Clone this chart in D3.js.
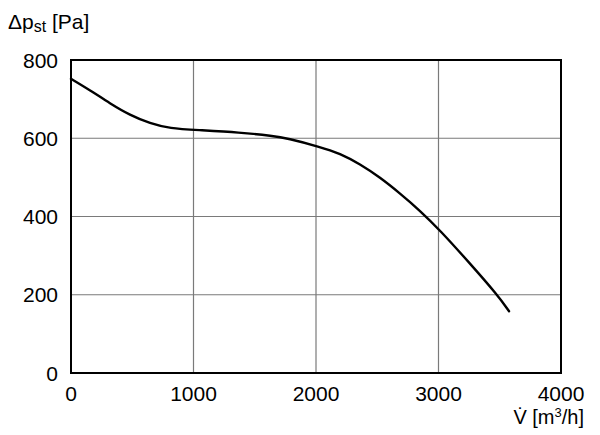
<!DOCTYPE html>
<html><head><meta charset="utf-8">
<script src="https://cdn.jsdelivr.net/npm/d3@7"></script>
<style>
html,body{margin:0;padding:0;background:#fff;}
svg text{font-family:"Liberation Sans",Arial,sans-serif;fill:#000;}
</style></head>
<body><svg id="c" width="600" height="435"></svg>
<script>
const flow = [0, 155, 318, 482, 645, 808, 1026, 1380, 1650, 1763, 2033, 2196, 2359, 2522, 2686, 2849, 3012, 3257, 3480, 3576];
const pressure = [752, 723, 689, 659, 638, 625, 621, 615, 606, 600, 578, 561, 534, 500, 459, 415, 365, 280, 200, 158];
const xTicks = [0, 1000, 2000, 3000, 4000];
const yTicks = [0, 200, 400, 600, 800];

const svg = d3.select("#c");
const L = 71, R = 561, T = 60, B = 373;
const x = d3.scaleLinear().domain([0, 4000]).range([L, R]);
const y = d3.scaleLinear().domain([0, 800]).range([B, T]);

// grid
svg.append("g").selectAll("line").data(xTicks.slice(1, -1)).join("line")
  .attr("x1", d => x(d)).attr("x2", d => x(d)).attr("y1", T).attr("y2", B)
  .attr("stroke", "#7a7a7a").attr("stroke-width", 1.2);
svg.append("g").selectAll("line").data(yTicks.slice(1, -1)).join("line")
  .attr("y1", d => y(d)).attr("y2", d => y(d)).attr("x1", L).attr("x2", R)
  .attr("stroke", "#7a7a7a").attr("stroke-width", 1.2);

// frame
svg.append("rect").attr("x", L).attr("y", T).attr("width", R - L).attr("height", B - T)
  .attr("fill", "none").attr("stroke", "#000").attr("stroke-width", 2);

// curve
const pts = flow.map((f, i) => [f, pressure[i]]);
svg.append("path").datum(pts)
  .attr("d", d3.line().x(d => x(d[0])).y(d => y(d[1])).curve(d3.curveBasis))
  .attr("fill", "none").attr("stroke", "#000").attr("stroke-width", 2.4)
  .attr("stroke-linecap", "round");

// tick labels
svg.append("g").selectAll("text").data(yTicks).join("text")
  .attr("x", 58).attr("y", d => y(d) + 7.5).attr("text-anchor", "end")
  .attr("font-size", 21).text(d => d);
svg.append("g").selectAll("text").data(xTicks).join("text")
  .attr("x", d => x(d)).attr("y", 401).attr("text-anchor", "middle")
  .attr("font-size", 21).text(d => d);

// axis titles
const yt = svg.append("text").attr("x", 8).attr("y", 29).attr("font-size", 21);
yt.append("tspan").text("Δp");
yt.append("tspan").attr("font-size", 16).attr("dy", 3).text("st");
yt.append("tspan").attr("dy", -3).text(" [Pa]");

const xt = svg.append("text").attr("x", 584).attr("y", 424).attr("text-anchor", "end").attr("font-size", 20);
xt.append("tspan").text("V\u0307 [m");
xt.append("tspan").attr("font-size", 13).attr("dy", -7).text("3");
xt.append("tspan").attr("dy", 7).text("/h]");
</script></body></html>
